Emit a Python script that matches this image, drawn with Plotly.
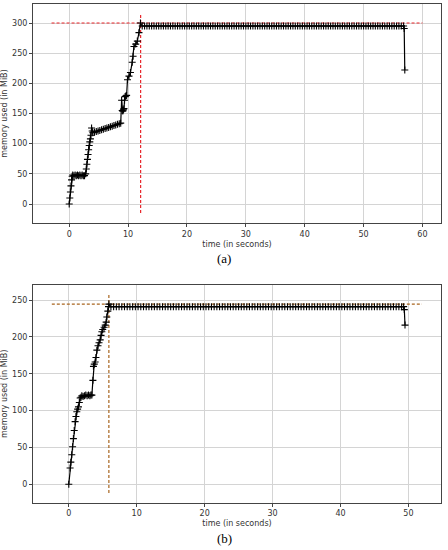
import plotly.graph_objects as go

# (a) memory profile
time_a = [
    0.0, 0.1, 0.2, 0.3, 0.4, 0.5, 0.6, 0.8, 1.0, 1.2, 1.4, 1.6, 1.8, 2.0, 2.2, 2.4, 2.6, 2.8,
    2.9, 3.0, 3.1, 3.2, 3.3, 3.4, 3.5, 3.6, 3.7, 3.8, 3.9, 4.0, 4.3, 4.6, 4.9, 5.2, 5.5, 5.8,
    6.1, 6.4, 6.7, 7.0, 7.3, 7.6, 7.9, 8.2, 8.5, 8.75, 8.9, 9.0, 9.1, 9.2, 9.3, 9.4, 9.5, 9.6,
    9.75, 9.9, 10.15, 10.4, 10.7, 10.85, 11.0, 11.3, 11.57, 11.85, 12.1,
    12.4, 12.8, 13.2, 13.6, 14.0, 14.4, 14.8, 15.2, 15.6, 16.0,
    16.4, 16.8, 17.2, 17.6, 18.0, 18.4, 18.8, 19.2, 19.6, 20.0,
    20.4, 20.8, 21.2, 21.6, 22.0, 22.4, 22.8, 23.2, 23.6, 24.0,
    24.4, 24.8, 25.2, 25.6, 26.0, 26.4, 26.8, 27.2, 27.6, 28.0,
    28.4, 28.8, 29.2, 29.6, 30.0, 30.4, 30.8, 31.2, 31.6, 32.0,
    32.4, 32.8, 33.2, 33.6, 34.0, 34.4, 34.8, 35.2, 35.6, 36.0,
    36.4, 36.8, 37.2, 37.6, 38.0, 38.4, 38.8, 39.2, 39.6, 40.0,
    40.4, 40.8, 41.2, 41.6, 42.0, 42.4, 42.8, 43.2, 43.6, 44.0,
    44.4, 44.8, 45.2, 45.6, 46.0, 46.4, 46.8, 47.2, 47.6, 48.0,
    48.4, 48.8, 49.2, 49.6, 50.0, 50.4, 50.8, 51.2, 51.6, 52.0,
    52.4, 52.8, 53.2, 53.6, 54.0, 54.4, 54.8, 55.2, 55.6, 56.0,
    56.4, 56.8, 56.9, 57.0,
]
mem_a = [
    0, 10, 20, 30, 40, 46, 48, 47, 48, 47, 48, 47, 48, 47, 48, 47, 47, 50,
    58, 66, 74, 82, 90, 97, 103, 108, 114, 126, 121, 118, 119, 120, 121, 122, 123, 124,
    125, 126, 127, 128, 129, 130, 131, 132, 133, 134, 172, 155, 154, 156, 158, 172, 178, 179,
    180, 206, 212, 218, 235, 245, 261, 265, 270, 284, 300,
    295, 295, 295, 295, 295, 295, 295, 295, 295, 295,
    295, 295, 295, 295, 295, 295, 295, 295, 295, 295,
    295, 295, 295, 295, 295, 295, 295, 295, 295, 295,
    295, 295, 295, 295, 295, 295, 295, 295, 295, 295,
    295, 295, 295, 295, 295, 295, 295, 295, 295, 295,
    295, 295, 295, 295, 295, 295, 295, 295, 295, 295,
    295, 295, 295, 295, 295, 295, 295, 295, 295, 295,
    295, 295, 295, 295, 295, 295, 295, 295, 295, 295,
    295, 295, 295, 295, 295, 295, 295, 295, 295, 295,
    295, 295, 295, 295, 295, 295, 295, 295, 295, 295,
    295, 295, 295, 295, 295, 295, 295, 295, 295, 295,
    295, 295, 291, 222,
]
peak_a = 300
peak_time_a = 12.13
hline_a = [-3, 60]
vline_a = [-15, 315]

# (b) memory profile
time_b = [
    0.0, 0.19, 0.3, 0.44, 0.56, 0.68, 0.8, 0.93, 1.05, 1.18, 1.3, 1.42, 1.55, 1.67, 1.8,
    1.92, 2.1, 2.3, 2.5, 2.7, 2.9, 3.1, 3.25, 3.4, 3.55, 3.63, 3.75, 3.88, 4.0, 4.13, 4.3,
    4.45, 4.62, 4.75, 4.87, 5.0, 5.2, 5.36, 5.5, 5.6, 5.75, 5.85, 5.9,
    6.2, 6.6, 7.0, 7.4, 7.8, 8.2, 8.6, 9.0, 9.4, 9.8,
    10.2, 10.6, 11.0, 11.4, 11.8, 12.2, 12.6, 13.0, 13.4, 13.8,
    14.2, 14.6, 15.0, 15.4, 15.8, 16.2, 16.6, 17.0, 17.4, 17.8,
    18.2, 18.6, 19.0, 19.4, 19.8, 20.2, 20.6, 21.0, 21.4, 21.8,
    22.2, 22.6, 23.0, 23.4, 23.8, 24.2, 24.6, 25.0, 25.4, 25.8,
    26.2, 26.6, 27.0, 27.4, 27.8, 28.2, 28.6, 29.0, 29.4, 29.8,
    30.2, 30.6, 31.0, 31.4, 31.8, 32.2, 32.6, 33.0, 33.4, 33.8,
    34.2, 34.6, 35.0, 35.4, 35.8, 36.2, 36.6, 37.0, 37.4, 37.8,
    38.2, 38.6, 39.0, 39.4, 39.8, 40.2, 40.6, 41.0, 41.4, 41.8,
    42.2, 42.6, 43.0, 43.4, 43.8, 44.2, 44.6, 45.0, 45.4, 45.8,
    46.2, 46.6, 47.0, 47.4, 47.8, 48.2, 48.6, 49.0,
    49.3, 49.4, 49.5,
]
mem_b = [
    0, 22, 30, 40, 51, 62, 73, 85, 92, 98.5, 102, 105, 111, 117, 118,
    120, 119, 120, 121, 120, 121, 120, 121, 121, 141, 160, 163, 166, 172, 182, 188,
    192, 196, 202, 207, 210, 213, 216, 220, 227, 235, 241, 244.5,
    241, 241, 241, 241, 241, 241, 241, 241, 241, 241,
    241, 241, 241, 241, 241, 241, 241, 241, 241, 241,
    241, 241, 241, 241, 241, 241, 241, 241, 241, 241,
    241, 241, 241, 241, 241, 241, 241, 241, 241, 241,
    241, 241, 241, 241, 241, 241, 241, 241, 241, 241,
    241, 241, 241, 241, 241, 241, 241, 241, 241, 241,
    241, 241, 241, 241, 241, 241, 241, 241, 241, 241,
    241, 241, 241, 241, 241, 241, 241, 241, 241, 241,
    241, 241, 241, 241, 241, 241, 241, 241, 241, 241,
    241, 241, 241, 241, 241, 241, 241, 241, 241, 241,
    241, 241, 241, 241, 241, 241, 241, 241,
    241, 237, 216,
]
peak_b = 244.5
peak_time_b = 5.9
hline_b = [-2.5, 52]
vline_b = [-12, 257]

x_ticks_a = [0, 10, 20, 30, 40, 50, 60]
y_ticks_a = [0, 50, 100, 150, 200, 250, 300]
x_ticks_b = [0, 10, 20, 30, 40, 50]
y_ticks_b = [0, 50, 100, 150, 200, 250]

W, H = 448, 550
tick_font = dict(family="DejaVu Sans", size=8, color="#333333")

fig = go.Figure()


def add_profile(t, m, peak, peak_t, hl, vl, dash_color, xa, ya):
    fig.add_trace(go.Scatter(
        x=hl, y=[peak, peak], mode="lines", xaxis=xa, yaxis=ya,
        line=dict(color=dash_color, width=1.2, dash="3px,2px"),
    ))
    fig.add_trace(go.Scatter(
        x=[peak_t, peak_t], y=vl, mode="lines", xaxis=xa, yaxis=ya,
        line=dict(color=dash_color, width=1.2, dash="3px,2px"),
    ))
    fig.add_trace(go.Scatter(
        x=t, y=m, mode="lines+markers", xaxis=xa, yaxis=ya,
        line=dict(color="black", width=1.2),
        marker=dict(symbol="cross-thin", size=5, line=dict(color="black", width=1.1)),
    ))


add_profile(time_a, mem_a, peak_a, peak_time_a, hline_a, vline_a, "#e8262b", "x", "y")
add_profile(time_b, mem_b, peak_b, peak_time_b, hline_b, vline_b, "#a8641e", "x2", "y2")

axis_common = dict(
    showline=True, mirror=True, linecolor="#444444", linewidth=1,
    showgrid=True, gridcolor="#d4d4d4", gridwidth=1, zeroline=False,
    ticks="outside", ticklen=3, tickcolor="#444444", tickfont=tick_font,
)
x_dom = [33 / W, 441 / W]

fig.update_layout(
    width=W, height=H, margin=dict(l=0, r=0, t=0, b=0),
    paper_bgcolor="white", plot_bgcolor="white", showlegend=False,
    xaxis=dict(axis_common, domain=x_dom, range=[-6.15, 63.15], tickvals=x_ticks_a,
               anchor="y", title=dict(text="time (in seconds)", font=tick_font, standoff=3)),
    yaxis=dict(axis_common, domain=[1 - 223 / H, 1 - 4 / H], range=[-31.5, 331.5],
               tickvals=y_ticks_a, anchor="x",
               title=dict(text="memory used (in MiB)", font=tick_font, standoff=5)),
    xaxis2=dict(axis_common, domain=x_dom, range=[-5.27, 54.8], tickvals=x_ticks_b,
                anchor="y2", title=dict(text="time (in seconds)", font=tick_font, standoff=3)),
    yaxis2=dict(axis_common, domain=[1 - 502.7 / H, 1 - 285 / H], range=[-25, 270.4],
                tickvals=y_ticks_b, anchor="x2",
                title=dict(text="memory used (in MiB)", font=tick_font, standoff=5)),
)

caption_font = dict(family="Liberation Serif", size=13, color="black")
fig.add_annotation(text="(a)", x=0.5, y=1 - 258 / H, xref="paper", yref="paper",
                   yanchor="middle", showarrow=False, font=caption_font)
fig.add_annotation(text="(b)", x=0.5, y=1 - 538 / H, xref="paper", yref="paper",
                   yanchor="middle", showarrow=False, font=caption_font)

fig.write_html("out.html", config={"displayModeBar": False},
               post_script="document.body.style.margin='0px';")
